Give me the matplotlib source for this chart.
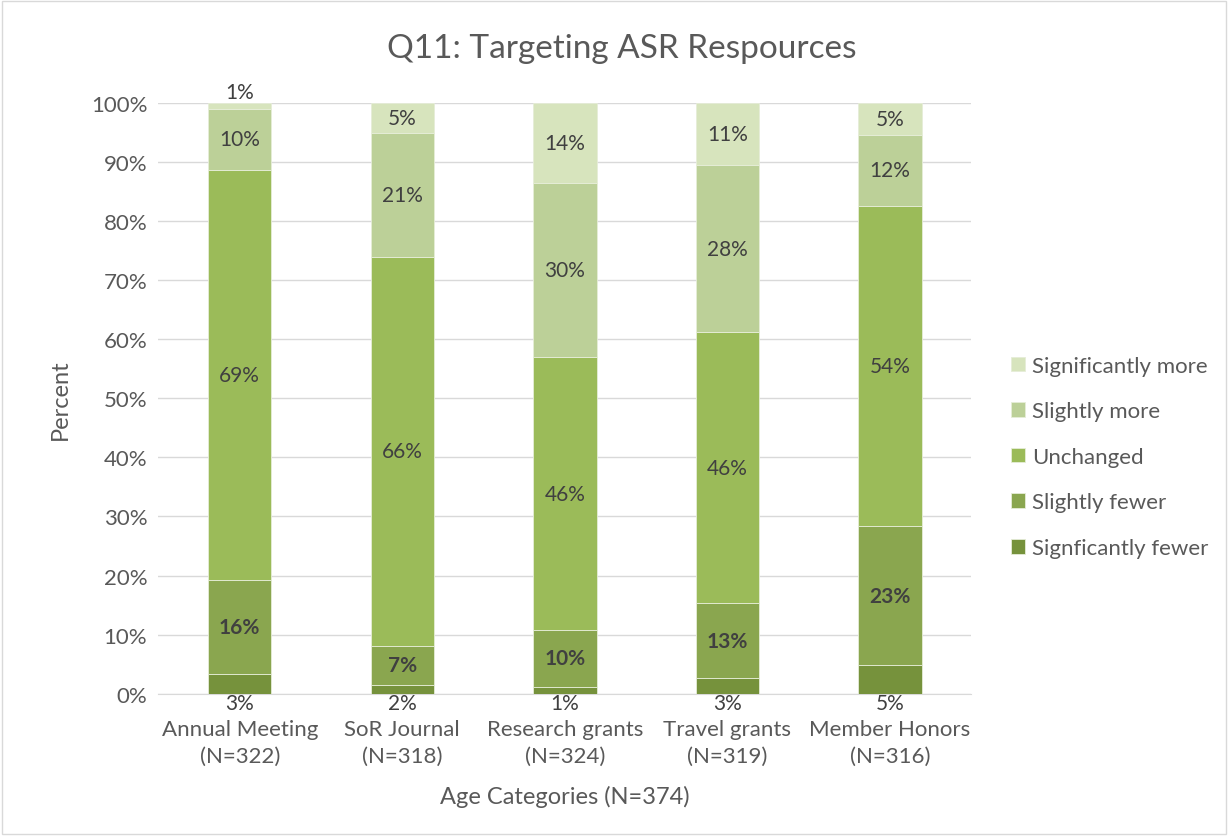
import matplotlib
matplotlib.use("Agg")
import matplotlib.pyplot as plt
import numpy as np
from matplotlib.patches import Rectangle

plt.rcParams['font.family'] = ['Lato', 'DejaVu Sans']

categories = ["Annual Meeting\n(N=322)", "SoR Journal\n(N=318)", "Research grants\n(N=324)",
              "Travel grants\n(N=319)", "Member Honors\n(N=316)"]
series_names = ["Signficantly fewer", "Slightly fewer", "Unchanged", "Slightly more", "Significantly more"]
sig_fewer = [3.4, 1.5, 1.2, 2.7, 4.9]
slightly_fewer = [15.9, 6.6, 9.6, 12.6, 23.4]
unchanged = [69.4, 65.8, 46.1, 45.9, 54.3]
slightly_more = [10.3, 21.0, 29.6, 28.2, 11.9]
sig_more = [1.0, 5.1, 13.5, 10.6, 5.4]
colors = ["#76923C", "#8AA64F", "#9BBB59", "#BCD098", "#D7E4BD"]

series = [sig_fewer, slightly_fewer, unchanged, slightly_more, sig_more]

fig = plt.figure(figsize=(12.28, 8.37), dpi=100)
ax = fig.add_axes([0.129, 0.170, 0.662, 0.706])
fig.patches.append(Rectangle((0.002, 0.002), 0.996, 0.996, transform=fig.transFigure,
                             fill=False, edgecolor="#D9D9D9", linewidth=1.0))

x = np.arange(len(categories))
bottom = np.zeros(len(categories))
handles = []
lab_fs = 15
for i, (vals, name, c) in enumerate(zip(series, series_names, colors)):
    vals = np.array(vals)
    b = ax.bar(x, vals, 0.39, bottom=bottom, color=c, edgecolor="#E6EDD8", linewidth=0.6,
               label=name, zorder=3)
    handles.append(b)
    for j in range(len(x)):
        v = vals[j]
        txt = f"{v:.0f}%"
        if i == 0:
            ax.text(x[j], 0.1, txt, ha="center", va="top", fontsize=lab_fs, color="#404040", zorder=4)
        elif i == 4 and v < 3:
            ax.text(x[j], bottom[j] + v + 0.2, txt, ha="center", va="bottom", fontsize=lab_fs,
                    color="#404040", zorder=4)
        else:
            ax.text(x[j], bottom[j] + v / 2, txt, ha="center", va="center", fontsize=lab_fs,
                    color="#404040", fontweight="bold" if i == 1 else "normal", zorder=4)
    bottom += vals

ax.set_xlim(-0.5, 4.5)
ax.set_ylim(0, 100)
ax.set_yticks(np.arange(0, 101, 10))
ax.set_yticklabels([f"{t}%" for t in range(0, 101, 10)])
ax.set_xticks(x)
ax.set_xticklabels(categories, linespacing=1.45)
ax.tick_params(axis="both", length=0, labelsize=16, colors="#595959")
ax.tick_params(axis="x", pad=18)
ax.tick_params(axis="y", pad=8)
ax.yaxis.grid(True, color="#D9D9D9", linewidth=1.0, zorder=0)
for s in ["top", "right", "left"]:
    ax.spines[s].set_visible(False)
ax.spines["bottom"].set_color("#D9D9D9")
ax.set_ylabel("Percent", fontsize=17, color="#595959", labelpad=14)
ax.set_xlabel("Age Categories (N=374)", fontsize=17, color="#595959", labelpad=14)
fig.text(0.506, 0.942, "Q11: Targeting ASR Respources", ha="center", va="center",
         fontsize=24, color="#595959")

leg = fig.legend(handles[::-1], series_names[::-1], loc="center left",
                 bbox_to_anchor=(0.807, 0.453), frameon=False, fontsize=16,
                 labelspacing=1.15, handlelength=0.65, handleheight=0.65, handletextpad=0.3)
for t in leg.get_texts():
    t.set_color("#595959")

fig.savefig("out.png", dpi=100)
